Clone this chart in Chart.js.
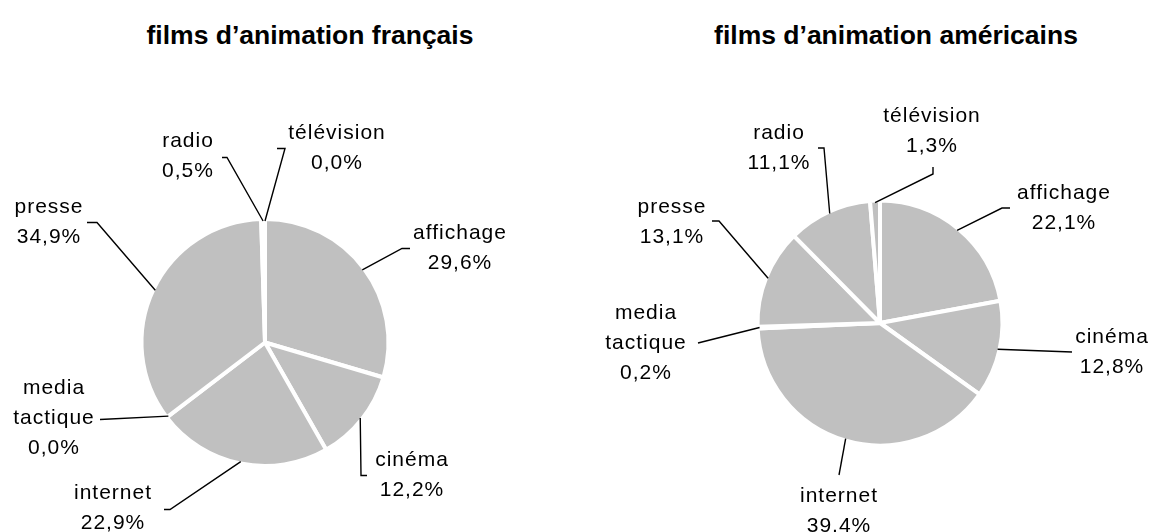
<!DOCTYPE html>
<html lang="fr">
<head>
<meta charset="utf-8">
<script src="https://cdn.jsdelivr.net/npm/chart.js@4.4.1/dist/chart.umd.min.js"></script>
<style>
  body { margin: 0; background: #fff; width: 1153px; height: 532px; position: relative; overflow: hidden; }
  canvas { position: absolute; top: 0; }
  #frenchChart { left: 0; }
  #americanChart { left: 576px; }
  .title {
    position: absolute; top: 20px;
    font: bold 26.5px "Liberation Sans", Arial, sans-serif; line-height: 30px;
    white-space: nowrap; transform: translateX(-50%); color: #000;
  }
</style>
</head>
<body>
<div class="title" style="left:310px">films d’animation français</div>
<div class="title" style="left:896px">films d’animation américains</div>
<canvas id="frenchChart" width="576" height="532"></canvas>
<canvas id="americanChart" width="577" height="532"></canvas>
<script>
// Data
const categories = ["affichage", "cinéma", "internet", "media tactique", "presse", "radio", "télévision"];
const frenchFilms = [29.6, 12.2, 22.9, 0.0, 34.9, 0.5, 0.0];
const americanFilms = [22.1, 12.8, 39.4, 0.2, 13.1, 11.1, 1.3];

// Label placement (offsets from the pie centre): text centre, then leader points from the pie outwards
const frenchLabelLayout = [
  { text: [195, -109], line: [[137, -94], [145, -94]] },
  { text: [147, 118], line: [[96, 133], [102, 133]] },
  { text: [-152, 151], line: [[-95, 167], [-101, 167]] },
  { text: [-211, 46], line: [[-165, 77]] },
  { text: [-216, -135], line: [[-168, -120], [-178, -120]] },
  { text: [-77, -201], line: [[-38, -185], [-43, -185]] },
  { text: [72, -209], line: [[20, -194], [12, -194]] },
];
const americanLabelLayout = [
  { text: [184, -130], line: [[122, -115], [130, -115]] },
  { text: [232, 14], line: [[192, 29]] },
  { text: [-41, 173], line: [[-41, 152]] },
  { text: [-234, -10], line: [[-182, 20]] },
  { text: [-208, -116], line: [[-161, -102], [-168, -102]] },
  { text: [-101, -190], line: [[-56, -175], [-62, -175]] },
  { text: [52, -207], line: [[53, -149], [53, -156]] },
];

function formatPct(v) {
  return v.toFixed(1).replace(".", ",") + "%";
}

// draws the category / percentage labels with their leader lines
const pieLabels = {
  id: "pieLabels",
  afterDatasetsDraw(chart, args, opts) {
    const ctx = chart.ctx;
    const meta = chart.getDatasetMeta(0);
    const values = chart.data.datasets[0].data;
    ctx.save();
    ctx.font = "21px 'Liberation Sans', Arial, sans-serif";
    ctx.letterSpacing = "1px";
    ctx.fillStyle = "#000";
    ctx.strokeStyle = "#000";
    ctx.lineWidth = 1.4;
    ctx.textAlign = "center";
    ctx.textBaseline = "middle";
    meta.data.forEach((arc, i) => {
      const p = arc.getProps(["x", "y", "startAngle", "endAngle", "outerRadius"], true);
      const mid = (p.startAngle + p.endAngle) / 2;
      const r = p.outerRadius - 2;
      const lay = opts.layout[i];
      ctx.beginPath();
      ctx.moveTo(p.x + Math.cos(mid) * r, p.y + Math.sin(mid) * r);
      lay.line.forEach(([dx, dy]) => ctx.lineTo(p.x + dx, p.y + dy));
      ctx.stroke();
      const lines = chart.data.labels[i].split(" ").concat(formatPct(values[i]));
      lines.forEach((t, k) => ctx.fillText(t, p.x + lay.text[0], p.y + lay.text[1] + k * 30));
    });
    ctx.restore();
  },
};

function makePie(id, values, layout, padding, radius) {
  return new Chart(document.getElementById(id), {
    type: "pie",
    data: {
      labels: categories,
      datasets: [
        {
          data: values,
          backgroundColor: "#c0c0c0",
          borderColor: "#ffffff",
          borderWidth: 4,
          hoverOffset: 0,
          radius: radius,
        },
      ],
    },
    options: {
      responsive: false,
      animation: false,
      devicePixelRatio: 1,
      layout: { padding: padding },
      plugins: {
        legend: { display: false },
        tooltip: { enabled: false },
        title: { display: false },
        pieLabels: { layout: layout },
      },
    },
    plugins: [pieLabels],
  });
}

makePie("frenchChart", frenchFilms, frenchLabelLayout,
  { left: 135, right: 181, top: 212, bottom: 59 }, 123.5);
makePie("americanChart", americanFilms, americanLabelLayout,
  { left: 174, right: 143, top: 193, bottom: 79 }, 122.5);
</script>
</body>
</html>
